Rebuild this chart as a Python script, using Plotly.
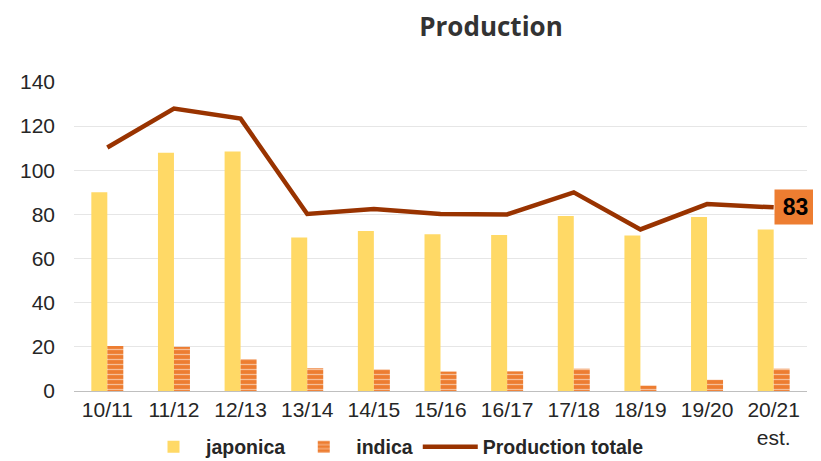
import plotly.graph_objects as go

categories = ["10/11", "11/12", "12/13", "13/14", "14/15", "15/16", "16/17", "17/18", "18/19", "19/20", "20/21<br>est."]
japonica = [90, 108, 108.5, 69.5, 72.5, 71, 70.7, 79.3, 70.4, 78.8, 73.2]
indica = [20.4, 20, 14.5, 10.3, 9.8, 8.8, 8.9, 10.1, 2.4, 5.1, 10.1]
total = [110.3, 128, 123.4, 80.2, 82.5, 80.2, 80, 90, 73.2, 84.7, 83.2]
last_label = "83"
y_ticks = [0, 20, 40, 60, 80, 100, 120, 140]

# the page body adds an 8px offset, so the figure is sized to the visible area
W, H, OFF = 813, 453, 8

fig = go.Figure()
fig.add_trace(go.Bar(x=categories, y=japonica, name="<b>japonica</b>",
                     marker=dict(color="#FFD966", line=dict(width=0))))
fig.add_trace(go.Bar(x=categories, y=indica, name="<b>indica</b>",
                     marker=dict(color="#ED7D31", line=dict(width=0),
                                 pattern=dict(shape="-", fgcolor="white", bgcolor="#ED7D31",
                                              size=5, solidity=0.25))))
fig.add_trace(go.Scatter(x=categories, y=total, name="<b>Production totale</b>", mode="lines",
                         line=dict(color="#993300", width=4.5)))

fig.add_annotation(x=categories[-1], y=total[-1], text="<b>" + last_label + "</b>",
                   showarrow=False, xanchor="left", yanchor="middle",
                   width=33, height=26, align="center", valign="middle",
                   bgcolor="#ED7D31", font=dict(family="Liberation Sans, Arial", size=23, color="black"),
                   borderpad=4)

fig.update_layout(
    width=W, height=H,
    margin=dict(l=74 - OFF, r=14, t=82 - OFF, b=70),
    paper_bgcolor="white", plot_bgcolor="white",
    barmode="group", bargap=0.52, bargroupgap=0,
    title=dict(text="<b>Production</b>", x=(491 - OFF) / W, xanchor="center", xref="container",
               y=1 - (27 - OFF) / H, yanchor="middle", yref="container",
               font=dict(family="Open Sans, Noto Sans", size=26, color="#333333")),
    font=dict(family="Liberation Sans, Arial", color="#262626"),
    showlegend=True,
    legend=dict(orientation="h", xref="container", x=(395 - OFF) / W, xanchor="center",
                yref="container", y=1 - (447 - OFF) / H, yanchor="middle",
                font=dict(family="Liberation Sans, Arial", size=19.5, color="#262626"),
                traceorder="normal", itemwidth=55, tracegroupgap=0),
    xaxis=dict(showgrid=False, showline=True, linecolor="#BFBFBF", linewidth=1,
               range=[-0.5, len(categories) - 0.5], autorange=False,
               tickfont=dict(size=21, color="#262626"), ticks="", automargin=False),
    yaxis=dict(range=[0, 140], tickvals=y_ticks, showgrid=True, gridcolor="#E6E6E6",
               gridwidth=1, zeroline=False, showline=False, automargin=False,
               tickfont=dict(size=21, color="#262626"), ticks="", ticklabelstandoff=18),
)
fig.write_html("out.html")
